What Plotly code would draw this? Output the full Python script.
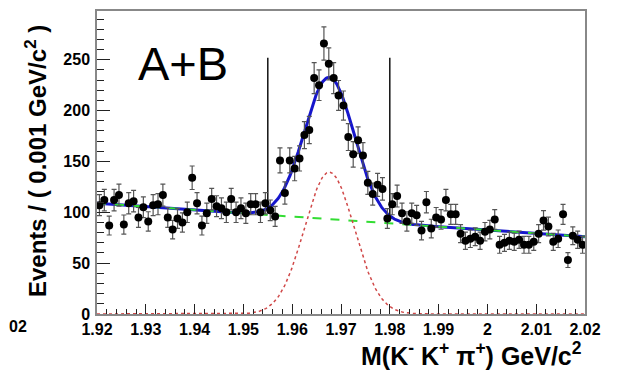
import numpy as np
import plotly.graph_objects as go

# Invariant-mass histogram: 100 bins of 0.001 GeV/c^2 from 1.92 to 2.02
bin_lo = 1.92
bin_width = 0.001
counts = [
    107, 112, 87, 112, 117, 88, 109, 111, 95, 105,
    91, 107, 108, 117, 95, 83, 94, 90, 100, 134,
    109, 87, 99, 113, 106, 104, 100, 113, 100, 104,
    99, 108, 108, 100, 109, 102, 96, 151, 119, 151,
    143, 153, 176, 181, 232, 225, 266, 246, 232, 215,
    205, 174, 157, 171, 156, 129, 118, 127, 123, 94,
    108, 116, 99, 91, 99, 97, 82, 110, 84, 95,
    93, 112, 98, 98, 79, 72, 74, 76, 72, 81,
    83, 93, 68, 70, 72, 71, 73, 68, 68, 71,
    79, 92, 86, 71, 74, 98, 53, 77, 73, 68,
]

# Fit result: linear background + Gaussian signal (events per bin)
bkg_at_lo = 109.0
bkg_at_hi = 76.0
sig_amp = 139.5
sig_mean = 1.9676
sig_sigma = 0.0051

# Signal window markers
window_edges = [1.955, 1.980]
window_top = 252

# Axis ticks
x_tickvals = [1.92, 1.93, 1.94, 1.95, 1.96, 1.97, 1.98, 1.99, 2.00, 2.01, 2.02]
x_ticktext = ["1.92", "1.93", "1.94", "1.95", "1.96", "1.97", "1.98", "1.99", "2", "2.01", "2.02"]
y_tickvals = [0, 50, 100, 150, 200, 250]
y_ticktext = ["0", "50", "100", "150", "200", "250"]

x_range = [1.92, 2.02]
y_range = [0, 298]

counts = np.array(counts, dtype=float)
centers = bin_lo + bin_width * (np.arange(len(counts)) + 0.5)
errors = np.sqrt(counts)


def background(m):
    return bkg_at_lo + (bkg_at_hi - bkg_at_lo) * (m - x_range[0]) / (x_range[1] - x_range[0])


def signal(m):
    return sig_amp * np.exp(-0.5 * ((m - sig_mean) / sig_sigma) ** 2)


m_fine = np.linspace(x_range[0], x_range[1], 600)

fig = go.Figure()

# Total fit
fig.add_trace(go.Scatter(
    x=m_fine, y=background(m_fine) + signal(m_fine), mode="lines",
    line=dict(color="#1616cc", width=3), hoverinfo="skip", showlegend=False,
))
# Background component
fig.add_trace(go.Scatter(
    x=m_fine, y=background(m_fine), mode="lines",
    line=dict(color="#33dd33", width=2, dash="dash"), hoverinfo="skip", showlegend=False,
))
# Signal component
fig.add_trace(go.Scatter(
    x=m_fine, y=signal(m_fine), mode="lines",
    line=dict(color="#d04848", width=1.5, dash="dot"), hoverinfo="skip", showlegend=False,
))

# Signal window lines, from the fit curve up
for edge in window_edges:
    base = float(background(edge) + signal(edge))
    fig.add_trace(go.Scatter(
        x=[edge, edge], y=[base, window_top], mode="lines",
        line=dict(color="#111111", width=1.5), hoverinfo="skip", showlegend=False,
    ))

# Data points with Poisson errors
fig.add_trace(go.Scatter(
    x=centers, y=counts, mode="markers",
    marker=dict(color="black", size=8),
    error_y=dict(type="data", array=errors, visible=True, color="#555555", thickness=1.2, width=2.5),
    showlegend=False,
))

tick_font = dict(family="Liberation Sans, Arial, sans-serif", size=16, color="black", weight="bold")

fig.update_xaxes(
    range=x_range, tickvals=x_tickvals, ticktext=x_ticktext,
    ticks="inside", ticklen=10, tickwidth=1, tickcolor="#222222",
    minor=dict(dtick=0.002, tick0=1.92, ticks="inside", ticklen=5, tickcolor="#222222"),
    showline=True, mirror=True, linecolor="#888888", linewidth=1.5,
    showgrid=False, zeroline=False, tickfont=tick_font, ticklabelstandoff=0,
)
fig.update_yaxes(
    range=y_range, tickvals=y_tickvals, ticktext=y_ticktext,
    ticks="inside", ticklen=13, tickwidth=1, tickcolor="#222222",
    minor=dict(dtick=10, tick0=0, ticks="inside", ticklen=7, tickcolor="#222222"),
    showline=True, mirror=True, linecolor="#888888", linewidth=1.5,
    showgrid=False, zeroline=False, tickfont=tick_font, ticklabelstandoff=2,
)

plot_l, plot_r, plot_t, plot_b = 97, 585, 9, 314
pw, ph = plot_r - plot_l, plot_b - plot_t


def px(xp):
    return (xp - plot_l) / pw


def py(yp):
    return (plot_b - yp) / ph


fig.add_annotation(
    text="A+B", xref="paper", yref="paper", x=px(183), y=py(62),
    xanchor="center", yanchor="middle", showarrow=False,
    font=dict(family="Liberation Sans, Arial, sans-serif", size=47, color="black"),
)
fig.add_annotation(
    text="M(K<sup>-</sup> K<sup>+</sup> π<sup>+</sup>) GeV/c<sup>2</sup>",
    xref="paper", yref="paper", x=px(584), y=py(354),
    xanchor="right", yanchor="middle", showarrow=False,
    font=dict(family="Liberation Sans, Arial, sans-serif", size=25, color="black", weight="bold"),
)
fig.add_annotation(
    text="Events / ( 0.001 GeV/c<sup>2</sup> )",
    xref="paper", yref="paper", x=px(36), y=py(160),
    xanchor="center", yanchor="middle", textangle=-90, showarrow=False,
    font=dict(family="Liberation Sans, Arial, sans-serif", size=24, color="black", weight="bold"),
)
fig.add_annotation(
    text="02", xref="paper", yref="paper", x=px(29), y=py(327),
    xanchor="right", yanchor="middle", showarrow=False,
    font=dict(family="Liberation Sans, Arial, sans-serif", size=16, color="black", weight="bold"),
)

fig.update_layout(
    width=619, height=376,
    margin=dict(l=plot_l, r=619 - plot_r, t=plot_t, b=376 - plot_b),
    paper_bgcolor="white", plot_bgcolor="white",
)

fig.write_html("out.html")
